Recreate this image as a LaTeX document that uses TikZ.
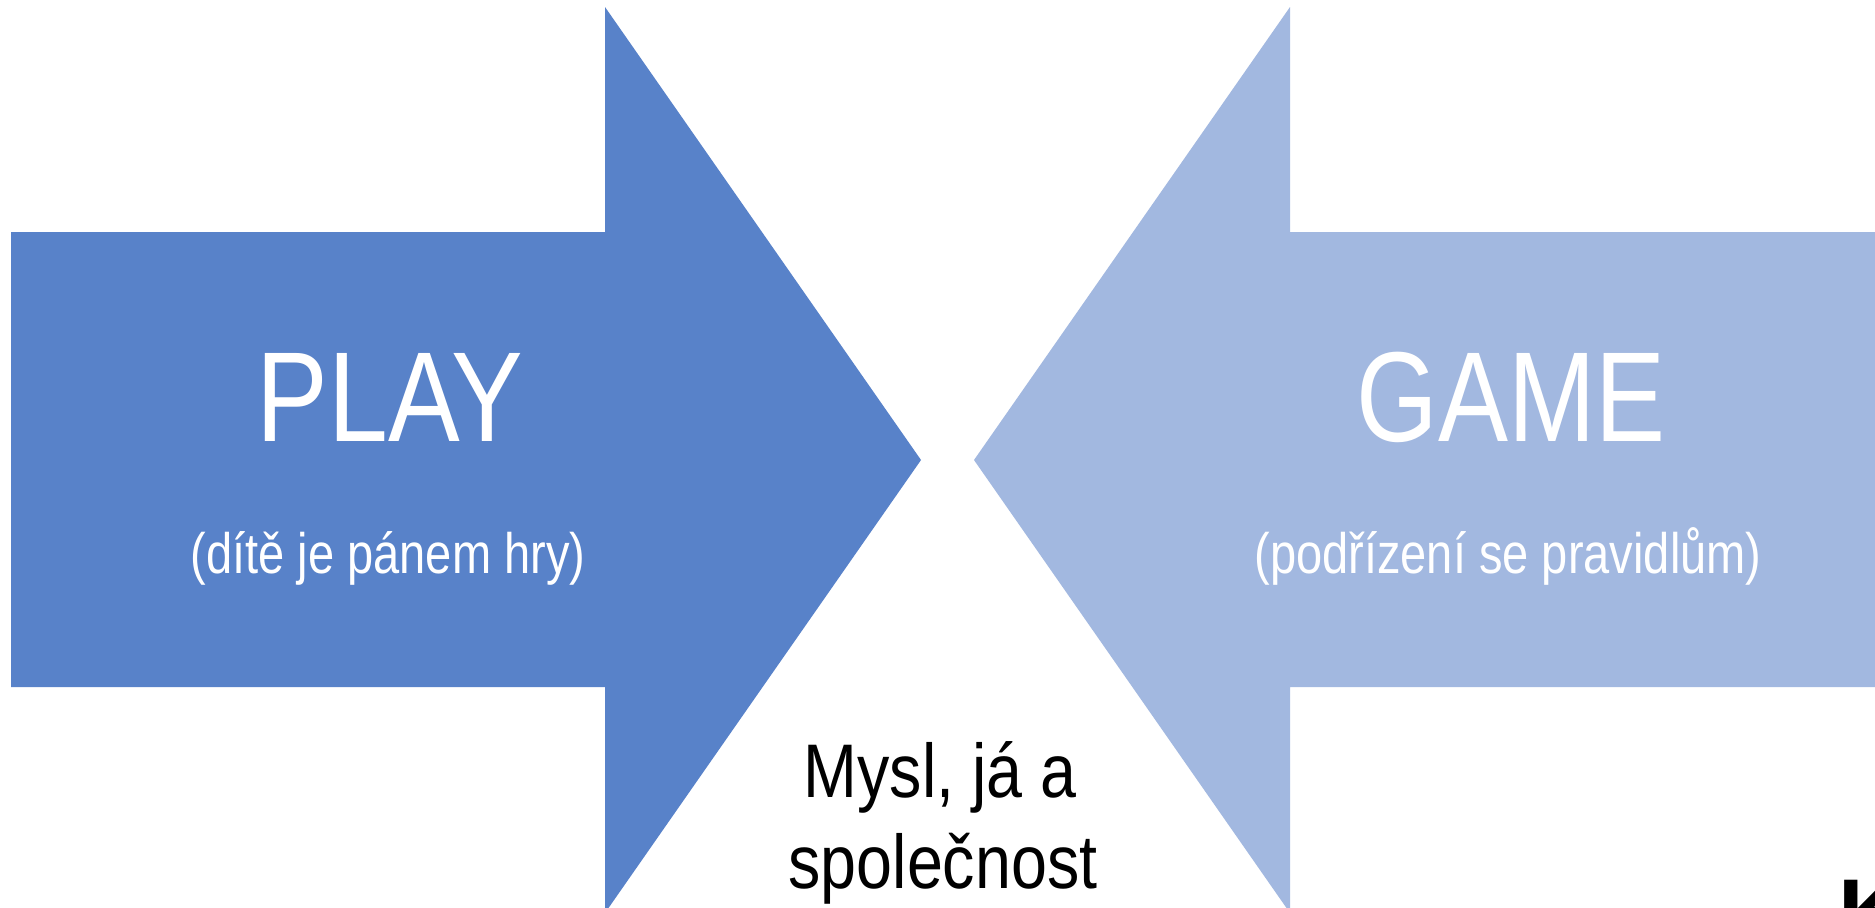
\documentclass[tikz,border=0pt]{standalone}
\usepackage{fontspec}
\setmainfont{Liberation Sans}
\newfontfamily\titlef[FakeStretch=0.84]{Liberation Sans}
\newfontfamily\gametitlef[FakeStretch=0.82]{Liberation Sans}
\newfontfamily\subf[FakeStretch=0.825]{Liberation Sans}
\newfontfamily\regf[FakeStretch=0.85]{Liberation Sans}
\definecolor{playblue}{RGB}{88,130,201}
\definecolor{gameblue}{RGB}{162,184,224}
\tikzset{
  title/.style={text=white, anchor=base, inner sep=0pt, font=\titlef\fontsize{64}{70}\selectfont},
  gametitle/.style={text=white, anchor=base, inner sep=0pt, font=\gametitlef\fontsize{64}{70}\selectfont},
  subtitle/.style={text=white, anchor=base, inner sep=0pt, font=\subf\fontsize{28.5}{32}\selectfont},
  midtext/.style={text=black, anchor=base, inner sep=0pt, font=\regf\fontsize{38}{44}\selectfont},
}
\begin{document}
\begin{tikzpicture}[x=0.5pt,y=-0.5pt]
\useasboundingbox (0,0) rectangle (1875,907);
\clip (0,0) rectangle (1875,907);
\fill[white] (0,0) rectangle (1875,907);
% left arrow (PLAY)
\fill[playblue] (11,232) -- (605,232) -- (605,7) -- (921,460) -- (605,913) -- (605,687) -- (11,687) -- cycle;
% right arrow (GAME)
\fill[gameblue] (1890,232) -- (1290,232) -- (1290,7) -- (974,460) -- (1290,913) -- (1290,687) -- (1890,687) -- cycle;
\node[title] (play) at (390,441) {PLAY};
\node[subtitle] (playsub) at (388,573) {(dítě je pánem hry)};
\node[gametitle] (game) at (1511,441) {GAME};
\node[subtitle] (gamesub) at (1508,573) {(podřízení se pravidlům)};
\node[midtext] (mid1) at (940,797) {Mysl, já a};
\node[midtext] (mid2) at (943,888) {společnost};
\node[anchor=north west, inner sep=0pt, text=black, font=\bfseries\fontsize{46}{50}\selectfont] (cut) at (1838,880) {K};
\end{tikzpicture}
\end{document}
